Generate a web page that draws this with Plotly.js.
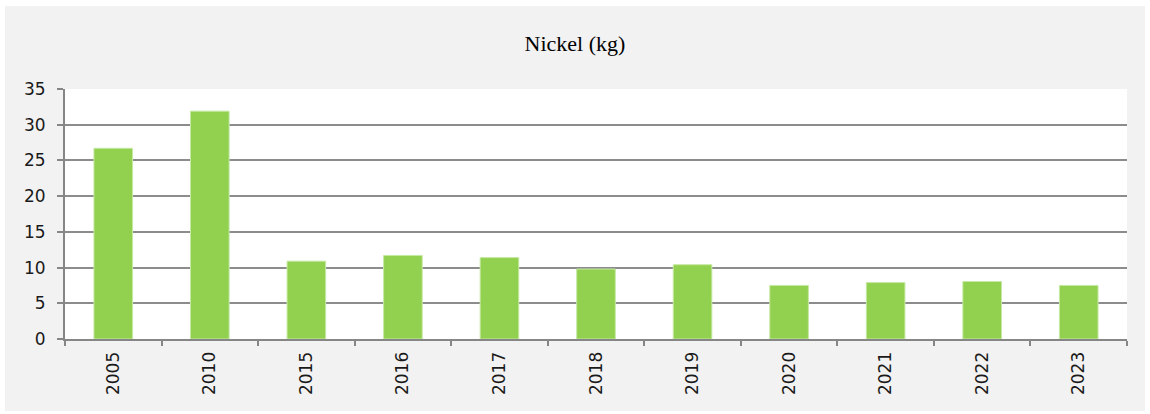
<!DOCTYPE html>
<html>
<head>
<meta charset="utf-8">
<script src="https://cdn.plot.ly/plotly-3.0.1.min.js"></script>
<style>
html,body{margin:0;padding:0;background:#ffffff;}
#chart{position:absolute;left:5px;top:6px;width:1140px;height:405px;}
</style>
</head>
<body>
<div id="chart"></div>
<script>
const years = ["2005","2010","2015","2016","2017","2018","2019","2020","2021","2022","2023"];
const nickel = [26.7, 31.9, 10.9, 11.7, 11.4, 9.8, 10.4, 7.5, 7.9, 8.05, 7.5];
const yTicks = [0,5,10,15,20,25,30,35];

const trace = {
  type: "bar",
  x: years,
  y: nickel,
  marker: {color: "#92d050", line: {color: "#c6e9a4", width: 1}},
  hoverinfo: "x+y"
};

const tickFont = {family: "DejaVu Sans, sans-serif", size: 17, color: "#1a1a1a"};

const layout = {
  width: 1140,
  height: 405,
  paper_bgcolor: "#f2f2f2",
  plot_bgcolor: "#ffffff",
  margin: {l: 60, r: 18, t: 83, b: 72},
  bargap: 0.6,
  showlegend: false,
  title: {
    text: "Nickel (kg)",
    font: {family: "Liberation Serif, serif", size: 22, color: "#000000"},
    x: 0.5, xanchor: "center",
    y: 1 - 37/405, yanchor: "middle"
  },
  xaxis: {
    type: "category",
    tickangle: -90,
    tickfont: tickFont,
    ticks: "outside",
    tickson: "boundaries",
    ticklen: 5,
    tickwidth: 2,
    tickcolor: "#868686",
    ticklabelstandoff: 4,
    showline: true,
    linecolor: "#868686",
    linewidth: 2,
    showgrid: false,
    fixedrange: true
  },
  yaxis: {
    range: [0, 35],
    tickvals: yTicks,
    ticktext: yTicks.map(String),
    tickfont: tickFont,
    ticks: "outside",
    ticklen: 6,
    tickwidth: 2,
    tickcolor: "#868686",
    ticklabelstandoff: 8,
    showline: true,
    linecolor: "#868686",
    linewidth: 2,
    showgrid: true,
    gridcolor: "#8c8c8c",
    gridwidth: 2,
    zeroline: false,
    fixedrange: true
  }
};

Plotly.newPlot("chart", [trace], layout, {displayModeBar: false, staticPlot: true});
</script>
</body>
</html>
